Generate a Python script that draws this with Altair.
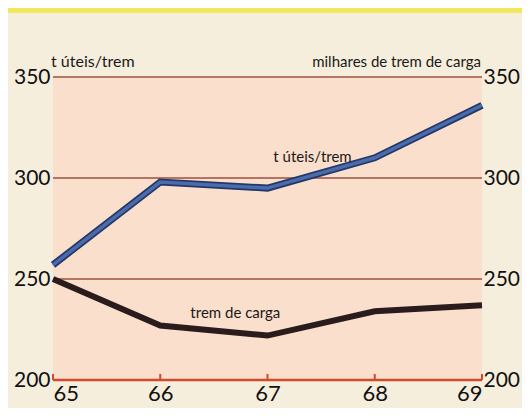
import altair as alt
import pandas as pd

years = [65, 66, 67, 68, 69]
t_uteis = [257, 298, 295, 310, 336]
carga = [250, 227, 222, 234, 237]
grid_values = [250, 300, 350]
tick_labels = [200, 250, 300, 350]

W, H = 429, 303
PL, PT = 45, 69
PR, PB = 514 - PL - W, 400 - PT - H
FONT = "Lato"
LBL = 21

df = pd.DataFrame({"ano": years, "t_uteis": t_uteis, "carga": carga})
grid_df = pd.DataFrame({"v": grid_values})
yr_df = pd.DataFrame({"ano": years})
one = pd.DataFrame({"a": [0]})

xs = alt.Scale(domain=[65, 69], nice=False, zero=False)
ys = alt.Scale(domain=[200, 350], nice=False, zero=False)

xaxis = alt.Axis(values=years, format="d", title=None, domain=False, ticks=False,
                 grid=False, labelFont=FONT, labelFontSize=22,
                 labelColor="#111111", labelPadding=3)

yellow = alt.Chart(one).mark_rect(color="#f1e85c").encode(
    x=alt.value(-PL), x2=alt.value(W + PR), y=alt.value(-PT), y2=alt.value(-PT + 5)
)

grid = alt.Chart(grid_df).mark_rule(color="#9e4f40", strokeWidth=1.5).encode(
    y=alt.Y("v:Q", scale=ys,
            axis=alt.Axis(orient="left", values=tick_labels, format="d", title=None,
                          domain=False, ticks=False, grid=False, labelFont=FONT,
                          labelFontSize=LBL, labelColor="#111111", labelPadding=3)),
    x=alt.value(0), x2=alt.value(W),
)

base = alt.Chart(one).mark_rule(color="#d24a2e", strokeWidth=2.5).encode(
    y=alt.value(H), x=alt.value(0), x2=alt.value(W)
)

ticks = alt.Chart(yr_df).mark_rule(color="#d24a2e", strokeWidth=2).encode(
    x=alt.X("ano:Q", scale=xs, axis=xaxis),
    y=alt.value(H), y2=alt.value(H - 6),
)

carga_line = alt.Chart(df).mark_line(color="#2a1c1c", strokeWidth=6, strokeCap="butt").encode(
    x=alt.X("ano:Q", scale=xs, axis=xaxis),
    y=alt.Y("carga:Q", scale=ys,
            axis=alt.Axis(orient="right", values=tick_labels, format="d", title=None,
                          domain=False, ticks=False, grid=False, labelFont=FONT,
                          labelFontSize=LBL, labelColor="#111111", labelPadding=1)),
)

blue_outer = alt.Chart(df).mark_line(color="#23376a", strokeWidth=7, strokeCap="butt").encode(
    x=alt.X("ano:Q", scale=xs, axis=xaxis),
    y=alt.Y("t_uteis:Q", scale=ys, axis=None),
)
blue_inner = alt.Chart(df).mark_line(color="#4a6cab", strokeWidth=3.5, strokeCap="butt").encode(
    x=alt.X("ano:Q", scale=xs, axis=xaxis),
    y=alt.Y("t_uteis:Q", scale=ys, axis=None),
)

labels_df = pd.DataFrame({
    "txt": ["t úteis/trem", "milhares de trem de carga", "t úteis/trem", "trem de carga"],
    "x": [65, 69, 67.42, 66.70],
    "y": [355, 355, 308, 230.5],
    "align": ["left", "right", "center", "center"],
    "size": [16, 15, 15, 15],
})

def text_layer(i, dx):
    r = labels_df.iloc[[i]]
    return alt.Chart(r).mark_text(
        font=FONT, fontSize=int(r["size"].iloc[0]), color="#1a1a1a",
        align=r["align"].iloc[0], baseline="alphabetic", dx=dx
    ).encode(
        x=alt.X("x:Q", scale=xs, axis=xaxis),
        y=alt.Y("y:Q", scale=ys, axis=None),
        text="txt:N",
    )

texts = [text_layer(0, -2), text_layer(1, -1), text_layer(2, 0), text_layer(3, 0)]

chart = alt.layer(
    yellow, grid, base, ticks, carga_line, blue_outer, blue_inner, *texts
).resolve_axis(y="independent").properties(
    width=W, height=H,
    padding={"left": PL, "top": PT, "right": PR, "bottom": PB},
    autosize=alt.AutoSizeParams(type="none"),
    background="#f6eedd",
).configure_view(strokeWidth=0, fill="#fadfcc")

chart.save("out.html", embed_options={"renderer": "svg", "actions": False})
